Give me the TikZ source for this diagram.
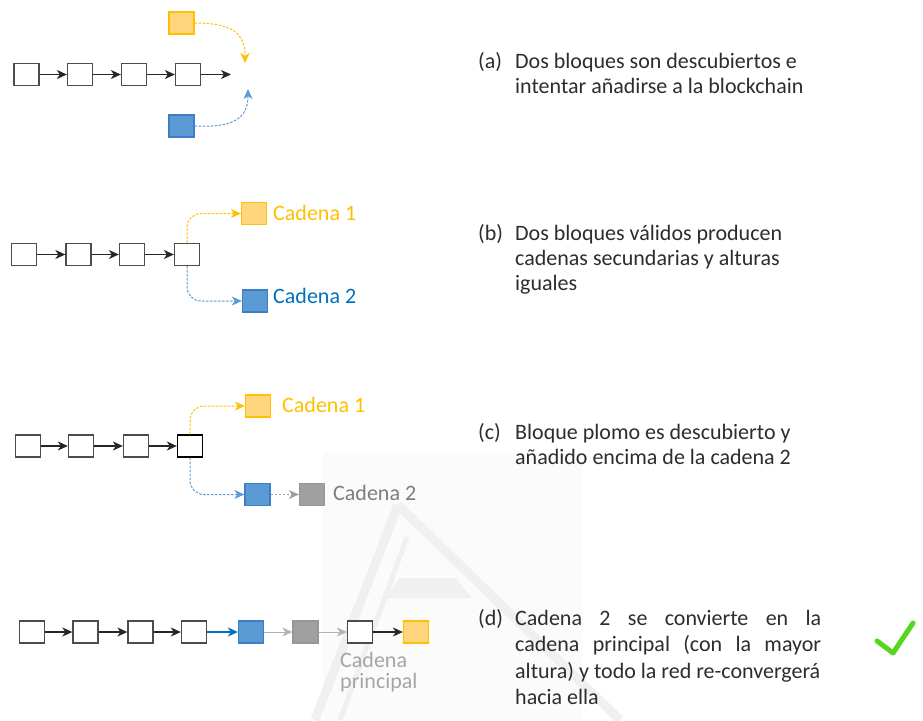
\documentclass[tikz,border=0pt]{standalone}
\usepackage{fontspec}
\setmainfont{Carlito}
\usetikzlibrary{arrows.meta}
\definecolor{txt}{RGB}{45,45,45}
\definecolor{yfill}{RGB}{255,214,125}
\definecolor{ydraw}{RGB}{255,192,0}
\definecolor{bfill}{RGB}{91,155,213}
\definecolor{bdraw}{RGB}{65,125,195}
\definecolor{bline}{RGB}{0,112,192}
\definecolor{gfill}{RGB}{160,160,160}
\definecolor{gdraw}{RGB}{150,150,150}
\definecolor{gtext}{RGB}{125,125,125}
\definecolor{ltext}{RGB}{165,165,165}
\definecolor{okgreen}{RGB}{85,215,30}
\definecolor{wmback}{RGB}{251,251,251}
\definecolor{wmline}{RGB}{240,240,240}
\tikzset{
  blk/.style={draw=black!70, line width=1.3pt, fill=white, minimum width=25pt, minimum height=22pt, inner sep=0pt},
  yblk/.style={blk, draw=ydraw, fill=yfill},
  bblk/.style={blk, draw=bdraw, fill=bfill},
  gblk/.style={blk, draw=gdraw, fill=gfill},
  tip/.style={-{Stealth[length=10pt,width=9pt,inset=3pt]}},
  link/.style={tip, line width=1.2pt, draw=black!85},
  ylink/.style={tip, line width=1pt, draw=ydraw, dash pattern=on 2.5pt off 1.5pt},
  blink/.style={tip, line width=1pt, draw=bfill, dash pattern=on 2.5pt off 1.5pt},
  glink/.style={tip, line width=1pt, draw=gfill, dash pattern=on 2.5pt off 1.5pt},
  body/.style={font=\fontsize{22}{25}\selectfont, text=txt, inner sep=0pt, anchor=base west},
  lab/.style={font=\fontsize{22}{25}\selectfont, inner sep=0pt, anchor=base west},
  wm/.style={draw=wmline, line width=9pt},
}
\begin{document}
\begin{tikzpicture}[x=1pt,y=-1pt]
\path[use as bounding box, fill=white] (0,0) rectangle (923,720);

% ---------- faint watermark
\fill[wmback] (323,453) rectangle (583,720);
\draw[wm] (398,505) -- (620,720);
\draw[wm] (398,505) -- (315,720);
\draw[wm, line width=5pt] (407,537) -- (340,720);
\fill[wmline] (400,578) -- (455,578) -- (472,598) -- (385,598) -- cycle;

% ---------- (a)
\node[blk] (a1) at (26.5,74.5) {};
\node[blk] (a2) at (80,74.5) {};
\node[blk] (a3) at (134,74.5) {};
\node[blk] (a4) at (188,74.5) {};
\coordinate (aend) at (231,74.5);
\node[yblk] (ay) at (181.5,23) {};
\node[bblk] (ab) at (181.5,126) {};
\coordinate (ayend) at (245,63);
\coordinate (abend) at (248,89);
\draw[link] (a1) -- (a2);
\draw[link] (a2) -- (a3);
\draw[link] (a3) -- (a4);
\draw[link] (a4) -- (aend);
\draw[ylink] (ay.east) .. controls (232,23) and (245,33) .. (ayend);
\draw[blink] (ab.east) .. controls (234,128) and (248,118) .. (abend);

\node[body] (ta) at (478,68) {(a)};
\node[body] (ta1) at (515,68) {Dos bloques son descubiertos e};
\node[body] (ta2) at (515,93) {intentar añadirse a la blockchain};

% ---------- (b)
\node[blk] (b1) at (24,254.5) {};
\node[blk] (b2) at (78.5,254.5) {};
\node[blk] (b3) at (132,254.5) {};
\node[blk] (b4) at (187,254.5) {};
\node[yblk] (by) at (254,213.5) {};
\node[bblk] (bb) at (255,301) {};
\draw[link] (b1) -- (b2);
\draw[link] (b2) -- (b3);
\draw[link] (b3) -- (b4);
\draw[ylink, rounded corners=14pt] (b4.north) |- (by.west);
\draw[blink, rounded corners=14pt] (b4.south) |- (bb.west);
\node[lab, text=ydraw] (byl) at (273,220) {Cadena 1};
\node[lab, text=bline] (bbl) at (273,303) {Cadena 2};

\node[body] (tb) at (478,240) {(b)};
\node[body] (tb1) at (515,240) {Dos bloques válidos producen};
\node[body] (tb2) at (515,265) {cadenas secundarias y alturas};
\node[body] (tb3) at (515,290) {iguales};

% ---------- (c)
\node[blk] (c1) at (28,446) {};
\node[blk] (c2) at (81,446) {};
\node[blk] (c3) at (136,446) {};
\node[blk, draw=black] (c4) at (190,446) {};
\node[yblk] (cy) at (258,406) {};
\node[bblk] (cb) at (257.5,494.5) {};
\node[gblk] (cg) at (312,494.5) {};
\draw[link] (c1) -- (c2);
\draw[link] (c2) -- (c3);
\draw[link] (c3) -- (c4);
\draw[ylink, rounded corners=14pt] (c4.north) |- (cy.west);
\draw[blink, rounded corners=14pt] (c4.south) |- (cb.west);
\draw[glink] (cb) -- (cg);
\node[lab, text=ydraw] (cyl) at (282,412) {Cadena 1};
\node[lab, text=gtext] (cgl) at (333,500) {Cadena 2};

\node[body] (tc) at (478,439) {(c)};
\node[body] (tc1) at (515,439) {Bloque plomo es descubierto y};
\node[body] (tc2) at (515,464) {añadido encima de la cadena 2};

% ---------- (d)
\node[blk] (d1) at (32,632) {};
\node[blk] (d2) at (85.5,632) {};
\node[blk] (d3) at (140.5,632) {};
\node[blk] (d4) at (194,632) {};
\node[bblk] (d5) at (251,632) {};
\node[gblk] (d6) at (305.5,632) {};
\node[blk] (d7) at (360,632) {};
\node[yblk] (d8) at (416,632) {};
\draw[link] (d1) -- (d2);
\draw[link] (d2) -- (d3);
\draw[link] (d3) -- (d4);
\draw[link, draw=bline] (d4) -- (d5);
\draw[link, draw=gfill!80, line width=0.9pt] (d5) -- (d6);
\draw[link, draw=gfill!80, line width=0.9pt] (d6) -- (d7);
\draw[link] (d7) -- (d8);
\node[lab, text=ltext] (dl1) at (340,667) {Cadena};
\node[lab, text=ltext] (dl2) at (340,688) {principal};

\node[body] (td) at (478,625) {(d)};
\node[body] (td1) at (515,625) {\makebox[306pt][s]{Cadena 2 se convierte en la}};
\node[body] (td2) at (515,651.5) {\makebox[306pt][s]{cadena principal (con la mayor}};
\node[body] (td3) at (515,678) {altura) y todo la red re-convergerá};
\node[body] (td4) at (515,704.5) {hacia ella};

\coordinate (k1) at (877,641);
\coordinate (k2) at (893,653);
\coordinate (k3) at (913,623);
\draw[okgreen, line width=5pt, line cap=round, line join=round] (k1) -- (k2) -- (k3);
\end{tikzpicture}
\end{document}
